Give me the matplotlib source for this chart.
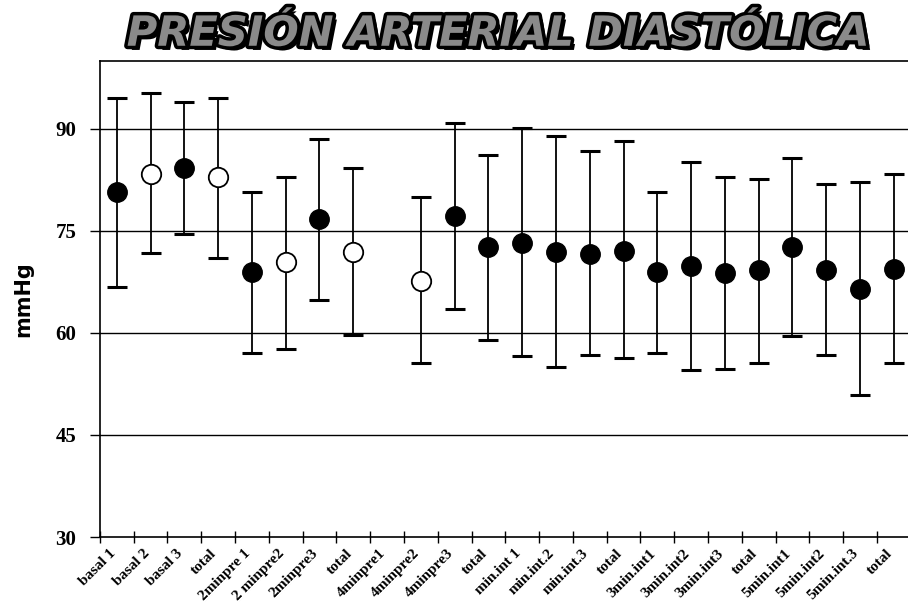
import numpy as np
import matplotlib.pyplot as plt
import matplotlib.patheffects as pe
import matplotlib.transforms as mtransforms

labels = ["basal 1", "basal 2", "basal 3", "total",
          "2minpre 1", "2 minpre2", "2minpre3", "total",
          "4minpre1", "4minpre2", "4minpre3", "total",
          "min.int 1", "min.int.2", "min.int.3", "total",
          "3min.int1", "3min.int2", "3min.int3", "total",
          "5min.int1", "5min.int2", "5min.int.3", "total"]

# mean and range (upper / lower whisker) per measurement, mmHg
mean = [80.7, 83.4, 84.3, 82.9, 69.0, 70.4, 76.7, 71.9,
        np.nan, 67.7, 77.2, 72.6, 73.3, 71.9, 71.6, 72.1,
        68.9, 69.9, 68.8, 69.2, 72.6, 69.3, 66.5, 69.4]
upper = [94.6, 95.3, 93.9, 94.5, 80.7, 83.0, 88.5, 84.2,
         np.nan, 80.0, 90.9, 86.1, 90.2, 88.9, 86.7, 88.3,
         80.7, 85.2, 82.9, 82.7, 85.8, 81.9, 82.2, 83.4]
lower = [66.8, 71.7, 74.5, 71.0, 57.1, 57.7, 64.9, 59.7,
         np.nan, 55.6, 63.5, 59.0, 56.6, 55.0, 56.7, 56.3,
         57.0, 54.5, 54.7, 55.6, 59.6, 56.7, 50.9, 55.6]
# True = filled marker, False = open marker
filled = [True, False, True, False, True, False, True, False,
          True, False, True, True, True, True, True, True,
          True, True, True, True, True, True, True, True]

mean = np.array(mean)
upper = np.array(upper)
lower = np.array(lower)
x = np.arange(len(labels))

fig = plt.figure(figsize=(9.08, 6.14), dpi=100)
ax = fig.add_axes([0.110, 0.1254, 0.893, 0.7753])

ax.errorbar(x, mean, yerr=[mean - lower, upper - mean], fmt="none",
            ecolor="black", elinewidth=1.3, capsize=7.5, capthick=2.2,
            zorder=3)
fill = np.array(filled)
ax.plot(x[fill], mean[fill], "o", ms=14, mfc="black", mec="black",
        zorder=4)
ax.plot(x[~fill], mean[~fill], "o", ms=14, mfc="white", mec="black",
        mew=1.3, zorder=4)

ax.set_xlim(-0.5, len(labels) - 0.5)
ax.set_ylim(30, 100)
ax.set_yticks([30, 45, 60, 75, 90])
for v in [45, 60, 75, 90]:
    ax.axhline(v, color="black", lw=1.0, zorder=1)

# tick marks sit on the category borders, labels on the centres
ax.set_xticks(np.arange(len(labels) + 1) - 0.5)
ax.set_xticklabels([])
ax.tick_params(axis="x", which="major", direction="inout", length=8,
               width=1)
ax.set_xticks(x, minor=True)
ax.set_xticklabels(labels, minor=True, rotation=45, ha="right",
                   rotation_mode="anchor", fontsize=11,
                   fontweight="bold", family="Liberation Serif")
ax.tick_params(axis="x", which="minor", length=0, pad=7)
shift = mtransforms.ScaledTranslation(-8 / 100, 0, fig.dpi_scale_trans)
for t in ax.get_xticklabels(minor=True):
    t.set_transform(t.get_transform() + shift)

ax.tick_params(axis="y", direction="out", length=7, width=1, pad=10)
for t in ax.get_yticklabels():
    t.set_family("Liberation Serif")
    t.set_fontweight("bold")
    t.set_fontsize(15)

ax.set_ylabel("mmHg", fontsize=15, fontweight="bold", labelpad=16)
ax.spines["right"].set_visible(False)
for s in ["left", "bottom", "top"]:
    ax.spines[s].set_linewidth(1.2)

title = fig.text(0.548, 0.945, "PRESIÓN ARTERIAL DIASTÓLICA",
                 ha="center", va="center", fontsize=30,
                 fontweight="black", style="italic", color="#8a8a8a",
                 family="DejaVu Sans")
title.set_path_effects([
    pe.withSimplePatchShadow(offset=(3, -3), shadow_rgbFace="black",
                             alpha=1.0),
    pe.withStroke(linewidth=5, foreground="black"),
])

fig.savefig("out.png", dpi=100)
